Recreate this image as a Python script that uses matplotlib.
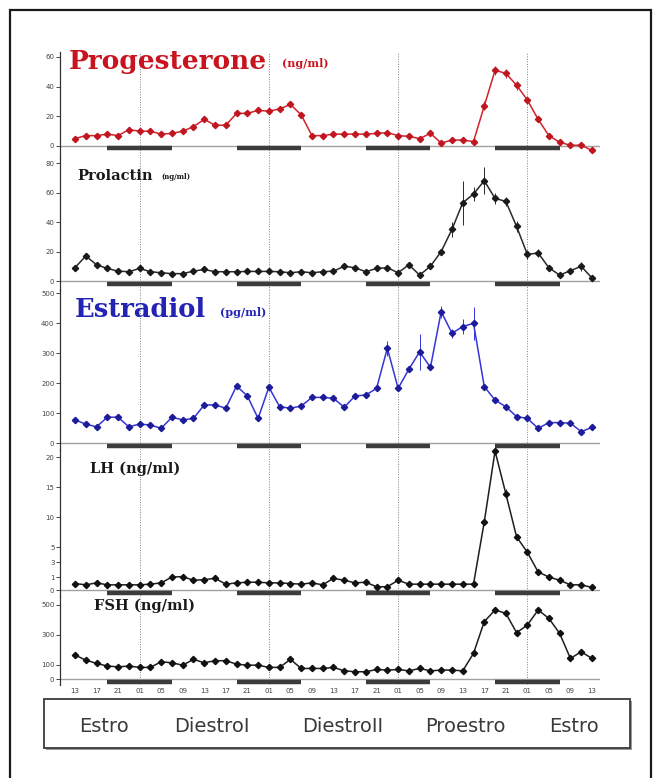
import matplotlib
matplotlib.use('Agg')
import matplotlib.pyplot as plt
import numpy as np
from matplotlib.patches import Rectangle
from matplotlib.transforms import offset_copy

# ---------------- data ----------------
# sampling times: hours after 13:00 of day 1, every 2 h
hours = list(range(0, 97, 2))
tick_hours = list(range(0, 97, 4))
tick_labels = ['13', '17', '21', '01', '05', '09',
               '13', '17', '21', '01', '05', '09',
               '13', '17', '21', '01', '05', '09',
               '13', '17', '21', '01', '05', '09', '13']
midnight_hours = [12, 36, 60, 84]            # dotted verticals (01 h)
dark_phases = [(6, 18), (30, 42), (54, 66), (78, 90)]  # 19:00-07:00

progesterone = [5, 7, 7, 8, 7, 11, 10, 10, 8, 8.5, 10, 13, 18, 14, 14, 22, 22, 24,
                23.5, 25, 28, 21, 7, 7, 8, 8, 8, 8, 8.5, 9, 7, 6.5, 5, 8.5, 2, 4, 4,
                3, 27, 51, 49, 41, 31, 18, 7, 2.5, 0.5, 0.5, -3]
prolactin = [9, 17, 11, 8.5, 6.7, 6.3, 8.5, 6.3, 5.6, 5, 5, 6.7, 7.8, 6.3, 6.3, 6.3,
             6.5, 6.5, 6.5, 6.3, 5.6, 6.3, 5.6, 6.3, 6.7, 10, 9, 6.3, 8.5, 9, 5.6, 11,
             4, 10, 20, 35, 53, 59, 68, 56, 54, 37, 18, 19, 9, 4, 7, 10, 2]
estradiol = [77, 63, 54, 86, 86, 54, 63, 60, 49, 86, 77, 82, 127, 127, 116, 190, 157,
             82, 186, 121, 116, 123, 152, 152, 149, 119, 157, 160, 182, 316, 182, 246,
             304, 252, 438, 366, 388, 399, 188, 143, 121, 88, 82, 49, 68, 68, 66, 38, 52]
lh = [0.5, 0.4, 0.55, 0.4, 0.4, 0.4, 0.4, 0.45, 0.55, 1.0, 1.05, 0.75, 0.8, 0.9, 0.45,
      0.55, 0.6, 0.6, 0.55, 0.55, 0.5, 0.45, 0.55, 0.4, 0.9, 0.75, 0.55, 0.6, 0.25,
      0.25, 0.75, 0.45, 0.45, 0.45, 0.45, 0.45, 0.45, 0.45, 9.2, 21, 13.9, 6.7, 4.3,
      1.67, 1.0, 0.75, 0.4, 0.4, 0.2]
fsh = [164, 130, 108, 90, 85, 90, 81, 81, 119, 112, 96, 135, 112, 126, 126, 103, 96,
       96, 81, 81, 135, 74, 74, 74, 81, 58, 52, 52, 67, 63, 67, 58, 74, 58, 63, 63, 58,
       175, 388, 466, 444, 314, 365, 466, 410, 309, 141, 186, 141]

# visible error bars (index, sem)
prog_err_idx = [19, 20, 38, 39, 40, 41, 42, 43]
prog_err_val = [2, 2, 3, 3, 3, 3, 3, 2]
prl_err_idx = [35, 36, 37, 38, 39, 40, 41, 42, 43, 47]
prl_err_val = [5, 15, 5, 9, 4, 3, 4, 3, 3, 3]
e2_err_idx = [22, 26, 29, 32, 34, 35, 36, 37]
e2_err_val = [10, 10, 25, 60, 20, 15, 25, 55]
lh_err_idx = [39, 40]
lh_err_val = [0.6, 0.8]
fsh_err_idx = [38, 39, 42, 43]
fsh_err_val = [20, 20, 20, 20]

phases = ['Estro', 'DiestroI', 'DiestroII', 'Proestro', 'Estro']

# ---------------- figure ----------------
W, H = 657, 778
fig = plt.figure(figsize=(W / 100, H / 100), dpi=100)


def px_axes(x0, y0, x1, y1):
    return fig.add_axes([x0 / W, 1 - y1 / H, (x1 - x0) / W, (y1 - y0) / H])


def sem_array(idx, val):
    s = np.zeros(len(hours))
    s[idx] = val
    return s


# outer frame
fig.patches.append(Rectangle((10 / W, -0.05), (651 - 10) / W, 1 - 10 / H + 0.05,
                             transform=fig.transFigure, fill=False,
                             edgecolor='#1a1a1a', lw=1.6))

XL, XR = 60, 600
xlim = (-2.785, 97.49)

# LH axis has a piecewise (broken) scale
lh_nodes_v = [-10, 0, 1, 3, 5, 10, 15, 20, 100]
lh_nodes_p = [-130, 0, 13, 28, 43, 73, 103, 133, 613]


def lh_fwd(v):
    return np.interp(v, lh_nodes_v, lh_nodes_p)


def lh_inv(p):
    return np.interp(p, lh_nodes_p, lh_nodes_v)


panels = [
    dict(vals=progesterone, err=sem_array(prog_err_idx, prog_err_val), box=(52, 158),
         ylim=(-8.09, 63.37), yticks=[0, 20, 40, 60], color='#d3222b', mcolor='#c0161f'),
    dict(vals=prolactin, err=sem_array(prl_err_idx, prl_err_val), box=(158, 290),
         ylim=(-6.1, 83.4), yticks=[0, 20, 40, 60, 80], color='#2a2a2a', mcolor='#1a1a1a'),
    dict(vals=estradiol, err=sem_array(e2_err_idx, e2_err_val), box=(290, 450),
         ylim=(-23.3, 510), yticks=[0, 100, 200, 300, 400, 500], color='#3535d8',
         mcolor='#1c1c9a'),
    dict(vals=lh, err=sem_array(lh_err_idx, lh_err_val), box=(450, 596),
         ylim=(-0.46, 21.17), yticks=[0, 1, 3, 5, 10, 15, 20], color='#1e1e1e',
         mcolor='#111111'),
    dict(vals=fsh, err=sem_array(fsh_err_idx, fsh_err_val), box=(596, 685),
         ylim=(-37, 560), yticks=[0, 100, 300, 500], color='#1e1e1e', mcolor='#111111'),
]

axes = []
for k, p in enumerate(panels):
    ax = px_axes(XL, p['box'][0], XR, p['box'][1])
    ax.patch.set_alpha(0)
    if k == 3:
        ax.set_yscale('function', functions=(lh_fwd, lh_inv))
    ax.set_xlim(*xlim)
    ax.set_ylim(*p['ylim'])
    for s in ['top', 'right', 'bottom']:
        ax.spines[s].set_visible(False)
    ax.spines['left'].set_color('#333333')
    ax.spines['left'].set_linewidth(0.9)
    ax.set_yticks(p['yticks'])
    ax.set_yticklabels([str(t) for t in p['yticks']])
    ax.yaxis.set_minor_locator(matplotlib.ticker.NullLocator())
    ax.tick_params(axis='y', labelsize=5, length=3, width=0.7, pad=1,
                   colors='#444444')
    ax.tick_params(axis='x', length=0)
    ax.set_xticks([])
    ax.axhline(0, color='#a0a0a0', lw=1.0, zorder=1)
    for h in midnight_hours:
        ax.axvline(h, color='#808080', lw=0.7, ls=(0, (1, 1.6)), zorder=0)
    bar_tr = offset_copy(ax.transData, fig=fig, x=0, y=-2.5, units='dots')
    for a, b in dark_phases:
        ax.plot([a, b], [0, 0], color='#3c3c3c', lw=3.2, solid_capstyle='butt',
                transform=bar_tr, clip_on=False, zorder=2)
    ax.errorbar(hours, p['vals'], yerr=p['err'], fmt='-', color=p['color'], lw=1.1,
                marker='D', ms=3.2, mfc=p['mcolor'], mec=p['mcolor'],
                ecolor=p['color'], elinewidth=0.7, capsize=0, clip_on=False, zorder=3)
    axes.append(ax)

# x tick labels on the bottom panel
ax5 = axes[4]
ax5.set_xticks(tick_hours)
ax5.set_xticklabels(tick_labels, fontsize=5, color='#444444')
ax5.tick_params(axis='x', length=0, pad=2)

# ---------------- titles ----------------
serif = 'DejaVu Serif'


def ftext(x, y, s, **kw):
    fig.text(x / W, 1 - y / H, s, va='baseline', ha='left', family=serif,
             fontweight='bold', **kw)


ftext(69, 69, 'Progesterone', fontsize=19, color='#c8141e')
ftext(282, 67, '(ng/ml)', fontsize=8, color='#c8141e')
ftext(77, 180, 'Prolactin', fontsize=10.5, color='#1a1a1a')
ftext(161, 179, '(ng/ml)', fontsize=5, color='#1a1a1a')
ftext(75, 317, 'Estradiol', fontsize=18.5, color='#2323b4')
ftext(220, 316, '(pg/ml)', fontsize=8, color='#2323b4')
ftext(90, 473, 'LH (ng/ml)', fontsize=10.5, color='#1a1a1a')
ftext(94, 610, 'FSH (ng/ml)', fontsize=10.5, color='#1a1a1a')

# ---------------- phase box ----------------
bx0, by0, bx1, by1 = 44, 699, 630, 748
fig.patches.append(Rectangle(((bx0 + 2) / W, 1 - (by1 + 2) / H), (bx1 - bx0) / W,
                             (by1 - by0) / H, transform=fig.transFigure,
                             facecolor='#9a9a9a', edgecolor='none'))
fig.patches.append(Rectangle((bx0 / W, 1 - by1 / H), (bx1 - bx0) / W, (by1 - by0) / H,
                             transform=fig.transFigure, facecolor='white',
                             edgecolor='#3a3a3a', lw=1.3))
phase_x = [104, 212, 343, 465, 574]
for s, x in zip(phases, phase_x):
    fig.text(x / W, 1 - 726 / H, s, ha='center', va='center', fontsize=14,
             family='DejaVu Sans', color='#3a3a3a')

fig.savefig('out.png', dpi=100)
